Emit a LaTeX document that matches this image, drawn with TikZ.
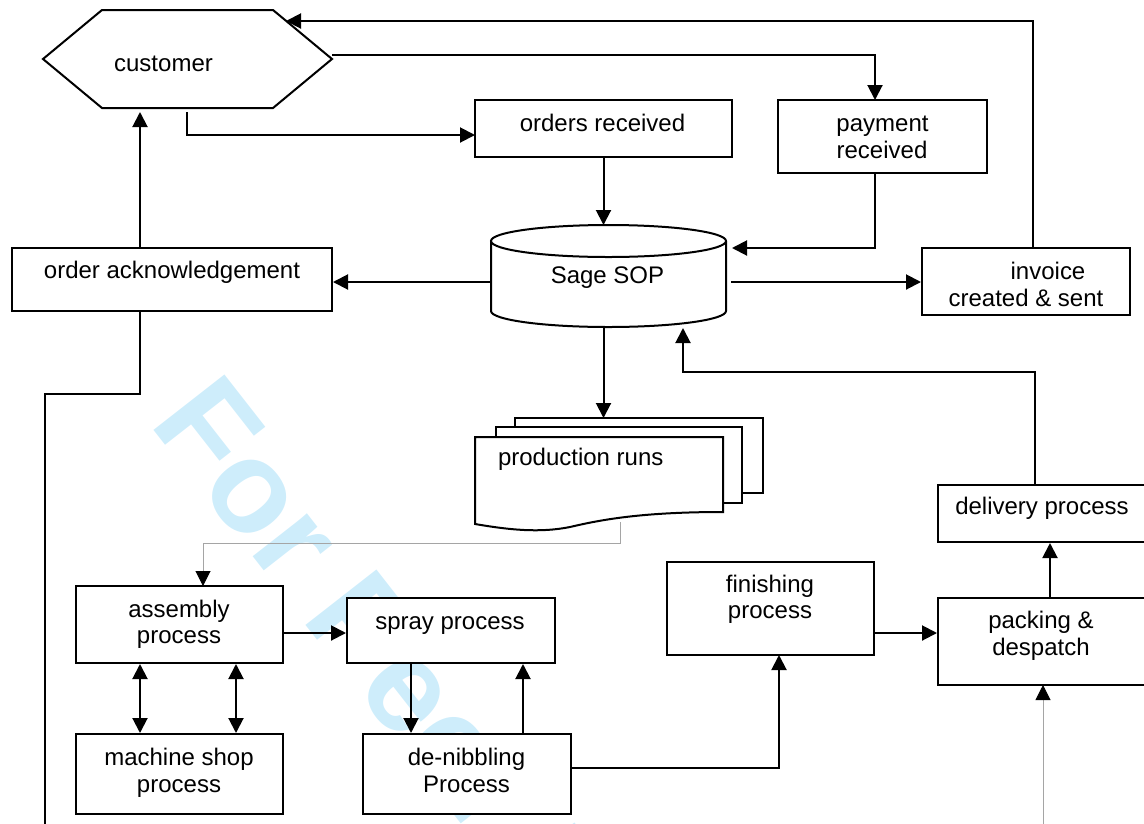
\documentclass[tikz,border=0pt]{standalone}
\usepackage{fontspec}
\setmainfont{Liberation Sans}
\usetikzlibrary{arrows.meta}
\definecolor{wm}{RGB}{206,237,251}
\definecolor{gline}{RGB}{165,165,165}
\begin{document}
\begin{tikzpicture}[x=1pt,y=-1pt,
  line width=2pt,
  box/.style={draw,fill=white,line width=2pt,inner sep=0pt,rectangle},
  lbl/.style={inner sep=0pt,anchor=base,font=\fontsize{24}{27}\selectfont},
  arr/.style={-{Triangle[length=15pt,width=15pt]}},
  darr/.style={{Triangle[length=15pt,width=15pt]}-{Triangle[length=15pt,width=15pt]}},
  garr/.style={draw=gline,line width=1pt,-{Triangle[length=15pt,width=15pt,color=black]}},
]
\useasboundingbox (0,0) rectangle (1144,823);
\clip (0,0) rectangle (1144,823);

% watermark
\node[rotate=-52,anchor=base west,inner sep=0pt,text=wm,font=\fontsize{131}{131}\selectfont\bfseries] (wm) at (148,423) {For Peer Review};

% customer hexagon
\draw[fill=white] (43,59) -- (102,10) -- (273,10) -- (332,59) -- (273,108) -- (102,108) -- cycle;
\coordinate (cust) at (187,59);
\node[lbl] (t-cust) at (163.5,71.7) {customer};

% boxes
\node[box,minimum width=257pt,minimum height=57pt] (orders) at (603.5,128.5) {};
\node[box,minimum width=209pt,minimum height=73pt] (payment) at (882.5,136.5) {};
\node[box,minimum width=320pt,minimum height=63pt] (ack) at (172,279.5) {};
\node[box,minimum width=208pt,minimum height=67pt] (invoice) at (1026,281.5) {};
\node[box,minimum width=207pt,minimum height=77pt] (assembly) at (179.5,624.5) {};
\node[box,minimum width=208pt,minimum height=65pt] (spray) at (451,630.5) {};
\node[box,minimum width=207pt,minimum height=80pt] (machine) at (179.5,774) {};
\node[box,minimum width=208pt,minimum height=80pt] (denib) at (467,774) {};
\node[box,minimum width=207pt,minimum height=93pt] (finishing) at (770.5,608.5) {};
\node[box,minimum width=222pt,minimum height=57pt] (delivery) at (1049,513.5) {};
\node[box,minimum width=222pt,minimum height=87pt] (packing) at (1049,641.5) {};

% Sage SOP cylinder
\draw[fill=white] (491,241) -- (491,311) arc[start angle=180,end angle=360,x radius=117.5pt,y radius=16pt] -- (726,241);
\draw[fill=white] (608.5,241) ellipse [x radius=117.5pt,y radius=16pt];
\coordinate (sop) at (608.5,276);

% production runs (multi-document)
\draw[fill=white] (515,418) rectangle (763,493);
\draw[fill=white] (496,427) rectangle (742,503);
\draw[fill=white] (475,437) -- (723,437) -- (723,512)
  .. controls (640,512) and (600,520) .. (570,527)
  .. controls (540,533) and (510,530) .. (475,524) -- cycle;
\coordinate (prod) at (600,470);

% labels
\node[lbl] (t-orders) at (602.5,131.5) {orders received};
\node[lbl] (t-pay1) at (882.5,131) {payment};
\node[lbl] (t-pay2) at (882,158) {received};
\node[lbl] (t-sop) at (607.5,283) {Sage SOP};
\node[lbl] (t-ack) at (172,278) {order acknowledgement};
\node[lbl] (t-inv1) at (1048,279) {invoice};
\node[lbl] (t-inv2) at (1026,306) {created \& sent};
\node[lbl,anchor=base west] (t-prod) at (497,465) {production runs};
\node[lbl] (t-asm1) at (179,617) {assembly};
\node[lbl] (t-asm2) at (179,643) {process};
\node[lbl] (t-spray) at (450,629) {spray process};
\node[lbl] (t-mach1) at (179,765) {machine shop};
\node[lbl] (t-mach2) at (179,792) {process};
\node[lbl] (t-den1) at (466.5,765) {de-nibbling};
\node[lbl] (t-den2) at (466.5,792) {Process};
\node[lbl] (t-fin1) at (770,592) {finishing};
\node[lbl] (t-fin2) at (770,618) {process};
\node[lbl] (t-del) at (1042,514) {delivery process};
\node[lbl] (t-pack1) at (1041,628) {packing \&};
\node[lbl] (t-pack2) at (1041,655) {despatch};

% connector end points
\coordinate (inv-up) at (1033,248);
\coordinate (cust-tr) at (286,21);
\coordinate (cust-r) at (332,55);
\coordinate (pay-in) at (875,100);
\coordinate (cust-b) at (187,112);
\coordinate (ord-in) at (475,135);
\coordinate (sop-top) at (603.5,225);
\coordinate (pay-out) at (875,173);
\coordinate (sop-r1) at (732,248);
\coordinate (sop-l) at (491,282);
\coordinate (sop-r) at (731,282);
\coordinate (ack-up) at (140,248);
\coordinate (cust-bl) at (140,112);
\coordinate (ack-dn) at (140,311);
\coordinate (lp1) at (140,394);
\coordinate (lp2) at (45,394);
\coordinate (lp3) at (45,830);
\coordinate (sop-b) at (603.5,327);
\coordinate (prod-top) at (603.5,418);
\coordinate (prod-b) at (620,522);
\coordinate (asm-in) at (203,586);
\coordinate (asm-out) at (283,633);
\coordinate (den-out) at (571,768);
\coordinate (fin-in) at (779,655);
\coordinate (fin-out) at (874,633);
\coordinate (pack-up) at (1050,598);
\coordinate (del-up) at (1035,485);
\coordinate (turn) at (683,372);
\coordinate (sop-b2) at (683,328);
\coordinate (bot) at (1043,830);
\coordinate (pack-in) at (1043,685);

% connectors
\draw[arr] (inv-up) |- (cust-tr);
\draw[arr] (cust-r) -| (pay-in);
\draw[arr] (cust-b) |- (ord-in);
\draw[arr] (orders.south) -- (sop-top);
\draw[arr] (pay-out) |- (sop-r1);
\draw[arr] (sop-l) -- (ack.east |- sop-l);
\draw[arr] (sop-r) -- (invoice.west |- sop-r);
\draw[arr] (ack-up) -- (cust-bl);
\draw (ack-dn) -- (lp1) -- (lp2) -- (lp3);
\draw[arr] (sop-b) -- (prod-top);
\draw[garr] (prod-b) |- (203,543) -- (asm-in);
\draw[arr] (asm-out) -- (spray.west |- asm-out);
\draw[darr] (assembly.south -| 140,0) -- (machine.north -| 140,0);
\draw[darr] (assembly.south -| 236,0) -- (machine.north -| 236,0);
\draw[arr] (spray.south -| 411,0) -- (denib.north -| 411,0);
\draw[arr] (denib.north -| 523,0) -- (spray.south -| 523,0);
\draw[arr] (den-out) -| (fin-in);
\draw[arr] (fin-out) -- (packing.west |- fin-out);
\draw[arr] (pack-up) -- (delivery.south -| pack-up);
\draw[arr] (del-up) |- (turn) -- (sop-b2);
\draw[garr] (bot) -- (pack-in);
\end{tikzpicture}
\end{document}
